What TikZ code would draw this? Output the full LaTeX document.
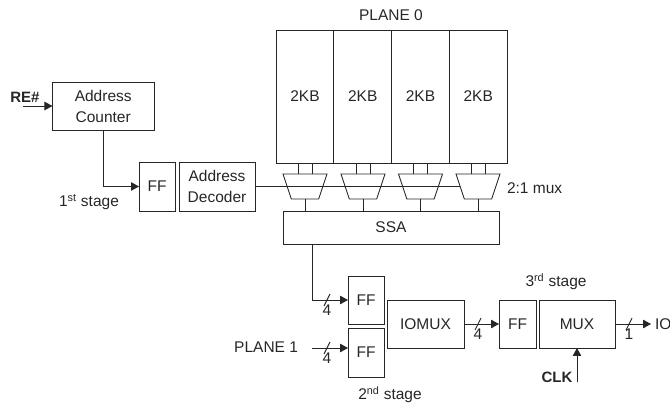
\documentclass[tikz,border=0pt]{standalone}
\usepackage{fontspec}
\setmainfont{Liberation Sans}
\usetikzlibrary{arrows.meta,shapes.geometric,positioning}
\definecolor{ink}{gray}{0.15}
\tikzset{
  x=1pt,y=-1pt,
  every node/.style={text=ink,font=\fontsize{15.5}{21}\selectfont,inner sep=0pt,outer sep=0pt},
  blockbox/.style={draw=ink,line width=0.9pt,minimum width=#1,align=center},
  wire/.style={draw=ink,line width=0.9pt},
  arrowwire/.style={wire,-{Triangle[length=8pt,width=8.5pt]}},
  muxshape/.style={draw=ink,line width=0.9pt,trapezium,shape border rotate=180,trapezium stretches=true,
    inner sep=2pt,minimum width=44pt,minimum height=25pt,trapezium left angle=73,trapezium right angle=73},
  boldlabel/.style={font=\fontsize{15}{21}\selectfont\bfseries},
}
\newcommand{\busmark}[4]{%
  \coordinate (#1a) at (#2-3,#3+6);
  \coordinate (#1b) at (#2+3,#3-6);
  \draw[wire] (#1a) -- (#1b);
  \node (#1t) at (#2,#3+10) {#4};
}
\begin{document}
\begin{tikzpicture}
\useasboundingbox (0,0) rectangle (670,406);
% plane
\node[blockbox=57.75pt,minimum height=133pt] (p1) at (305,96.5) {2KB};
\node[blockbox=57.75pt,minimum height=133pt] (p2) at (362.75,96.5) {2KB};
\node[blockbox=57.75pt,minimum height=133pt] (p3) at (420.5,96.5) {2KB};
\node[blockbox=57.75pt,minimum height=133pt] (p4) at (478.25,96.5) {2KB};
\node (plane0) at (391,15) {PLANE 0};
% muxes
\node[muxshape] (m1) at (305,186.5) {};
\node[muxshape] (m2) at (363,186.5) {};
\node[muxshape] (m3) at (420.5,186.5) {};
\node[muxshape] (m4) at (478,186.5) {};
\node[anchor=west] (muxlbl) at (507,188) {2:1 mux};
\node[blockbox=216pt,minimum height=33pt] (ssa) at (391,227.5) {SSA};
\foreach \m/\p in {m1/p1,m2/p2,m3/p3,m4/p4}{
  \draw[wire] ([xshift=-7pt]\m.north) -- ([xshift=-7pt]\m.north |- \p.south);
  \draw[wire] ([xshift=7pt]\m.north) -- ([xshift=7pt]\m.north |- \p.south);
  \draw[wire] (\m.south) -- (\m.south |- ssa.north);
}
% left part
\node[blockbox=101.5pt,minimum height=48pt] (cnt) at (103.2,106) {Address\\Counter};
\node[blockbox=36pt,minimum height=49pt] (ff1) at (157,186.5) {FF};
\node[blockbox=76pt,minimum height=49pt] (dec) at (217,186.5) {Address\\Decoder};
\coordinate (rein) at (23,106);
\node[boldlabel] (re) at (25,97) {RE\#};
\draw[arrowwire] (rein) -- (cnt.west);
\draw[arrowwire] (cnt.south) |- (ff1.west);
\draw[wire] (dec.east) -- (m4.west);
\node (st1) at (89,202) {1\textsuperscript{st} stage};
% bottom part
\node[blockbox=36pt,minimum height=48pt] (ffa) at (366,300) {FF};
\node[blockbox=36pt,minimum height=49pt] (ffb) at (366,352.5) {FF};
\node[blockbox=77pt,minimum height=48pt] (iomux) at (425.5,324) {IOMUX};
\node[blockbox=37pt,minimum height=48pt] (ff3) at (517.5,324) {FF};
\node[blockbox=76pt,minimum height=48pt] (mux) at (577,324) {MUX};
\draw[arrowwire] ([xshift=-79pt]ssa.south) |- (ffa.west);
\busmark{ba}{327}{300}{4}
\node[anchor=east] (pl1) at (298,347) {PLANE 1};
\coordinate (plin) at (312,348);
\draw[arrowwire] (plin) -- (plin -| ffb.west);
\busmark{bb}{327}{348}{4}
\draw[arrowwire] (iomux.east) -- (ff3.west);
\busmark{bc}{478}{324}{4}
\coordinate (ioend) at (651,324);
\draw[arrowwire] (mux.east) -- (ioend);
\busmark{bd}{629}{324}{1}
\node[anchor=west] (io) at (655,324) {IO};
\coordinate (clkin) at (577,382);
\draw[arrowwire] (clkin) -- (mux.south);
\node[boldlabel] (clk) at (557,377) {CLK};
\node (st2) at (390,395) {2\textsuperscript{nd} stage};
\node (st3) at (556,282) {3\textsuperscript{rd} stage};
\end{tikzpicture}
\end{document}
